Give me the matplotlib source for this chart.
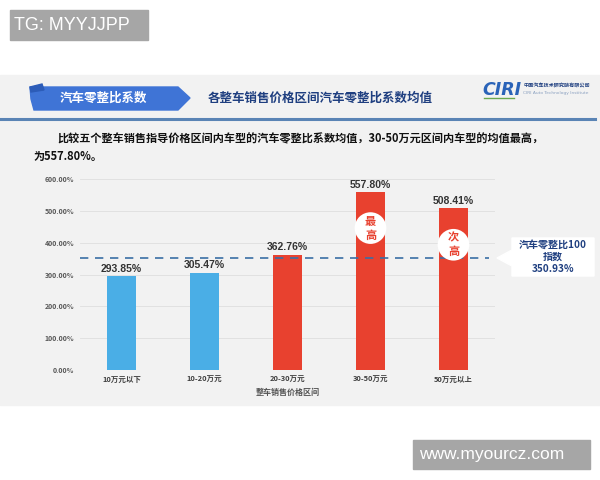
import matplotlib.pyplot as plt
from matplotlib.patches import Polygon, Rectangle

plt.rcParams['font.family'] = ['Noto Sans CJK SC', 'DejaVu Sans']
latin = ['Liberation Sans', 'Noto Sans CJK SC']

# data
categories = ['10万元以下', '10-20万元', '20-30万元', '30-50万元', '50万元以上']
values = [293.85, 305.47, 362.76, 557.80, 508.41]
avg_value = 350.93
yticks = [0, 100, 200, 300, 400, 500, 600]
bar_colors = ['#4aaee6', '#4aaee6', '#e8412f', '#e8412f', '#e8412f']
badges = {3: '最\n高', 4: '次\n高'}

fig = plt.figure(figsize=(6, 4.8), dpi=100)
fig.patch.set_facecolor('white')

# overlay in pixel coords for the slide decoration
bg = fig.add_axes([0, 0, 1, 1], zorder=0)
bg.set_xlim(0, 600)
bg.set_ylim(480, 0)
bg.axis('off')

bg.add_patch(Rectangle((0, 75), 600, 330, color='#f2f2f2'))
bg.plot([0, 595], [118.5, 118.5], color='#5a84b5', lw=2.2)

# header banner
bg.add_patch(Polygon([(30, 87), (178, 87), (190, 98), (178, 110), (34, 110), (31, 99)],
                     closed=True, color='#3f74d6'))
bg.add_patch(Polygon([(30, 87), (42, 84), (44, 90), (31, 92)], closed=True, color='#2c5cb8'))
bg.text(103, 98, '汽车零整比系数', color='white', fontsize=9, fontweight='bold',
        ha='center', va='center')
bg.text(208, 98, '各整车销售价格区间汽车零整比系数均值', color='#1f3f80', fontsize=9,
        fontweight='bold', ha='left', va='center')

# logo
bg.text(482, 90, 'CIRI', color='#2a63b8', fontsize=12.5, fontweight='bold', style='italic',
        ha='left', va='center', family='DejaVu Sans')
bg.plot([484, 514], [98, 98], color='#6aa84f', lw=1)
bg.text(523, 86, '中国汽车技术研究院有限公司', color='#1f3f80', fontsize=3.7, fontweight='bold',
        ha='left', va='center')
bg.text(523, 93, 'CIRI Auto Technology Institute', color='#8aa0c0', fontsize=3.2,
        ha='left', va='center', family='DejaVu Sans')

# body text
bg.text(57, 139, '比较五个整车销售指导价格区间内车型的汽车零整比系数均值，30-50万元区间内车型的均值最高，',
        fontsize=8, fontweight='bold', color='#111111', ha='left', va='center')
bg.text(33, 156, '为557.80%。', fontsize=8, fontweight='bold', color='#111111',
        ha='left', va='center')

# callout box
bg.add_patch(Polygon([(512, 238), (594, 238), (594, 276), (512, 276), (512, 266),
                      (497, 258), (512, 250)], closed=True, color='white'))
bg.text(553, 257, '汽车零整比100\n指数\n350.93%', color='#1f3f80', fontsize=7.2,
        fontweight='bold', ha='center', va='center', linespacing=1.25)

# watermarks
bg.add_patch(Rectangle((10, 10), 138, 30, color='#a6a6a6'))
bg.text(14, 25, 'TG: MYYJJPP', color='white', fontsize=13, ha='left', va='center',
        family='Liberation Sans')
bg.add_patch(Rectangle((413, 440), 177, 29, color='#a6a6a6'))
bg.text(419, 454.5, 'www.myourcz.com', color='white', fontsize=12.5, ha='left', va='center',
        family='Liberation Sans')

# chart
ax = fig.add_axes([80 / 600, 1 - 370 / 480, 415 / 600, 191 / 480], zorder=1)
ax.patch.set_alpha(0)
x = list(range(len(categories)))
ax.bar(x, values, width=0.34, color=bar_colors, zorder=2)
ax.set_xlim(-0.5, len(categories) - 0.5)
ax.set_ylim(0, 600)
ax.set_yticks(yticks)
ax.set_yticklabels([f'{v:.2f}%' for v in yticks], fontsize=5, fontweight='bold', color='#595959')
ax.set_xticks(x)
ax.set_xticklabels(categories, fontsize=5.4, fontweight='bold', color='#404040')
ax.tick_params(length=0, pad=4)
ax.yaxis.grid(True, color='#dedede', lw=0.6, zorder=0)
for s in ax.spines.values():
    s.set_visible(False)
ax.set_xlabel('整车销售价格区间', fontsize=5.8, fontweight='bold', color='#555555', labelpad=4)

for i, v in enumerate(values):
    ax.text(i, v + 8, f'{v:.2f}%', ha='center', va='bottom', fontsize=7.5, fontweight='bold',
            color='#333333', clip_on=False, family=latin)

ax.axhline(avg_value, xmax=0.985, color='#3a6ea5', lw=1.2, ls=(0, (5, 4)), zorder=3)

for i, label in badges.items():
    cy = values[i] - 112 if i == 3 else values[i] - 115
    ax.scatter([i], [cy], s=520, color='white', zorder=4, edgecolors='none')
    ax.text(i, cy, label, ha='center', va='center', fontsize=8, color='#e8412f',
            fontweight='bold', linespacing=1.1, zorder=5)

fig.savefig('out.png', dpi=100)
